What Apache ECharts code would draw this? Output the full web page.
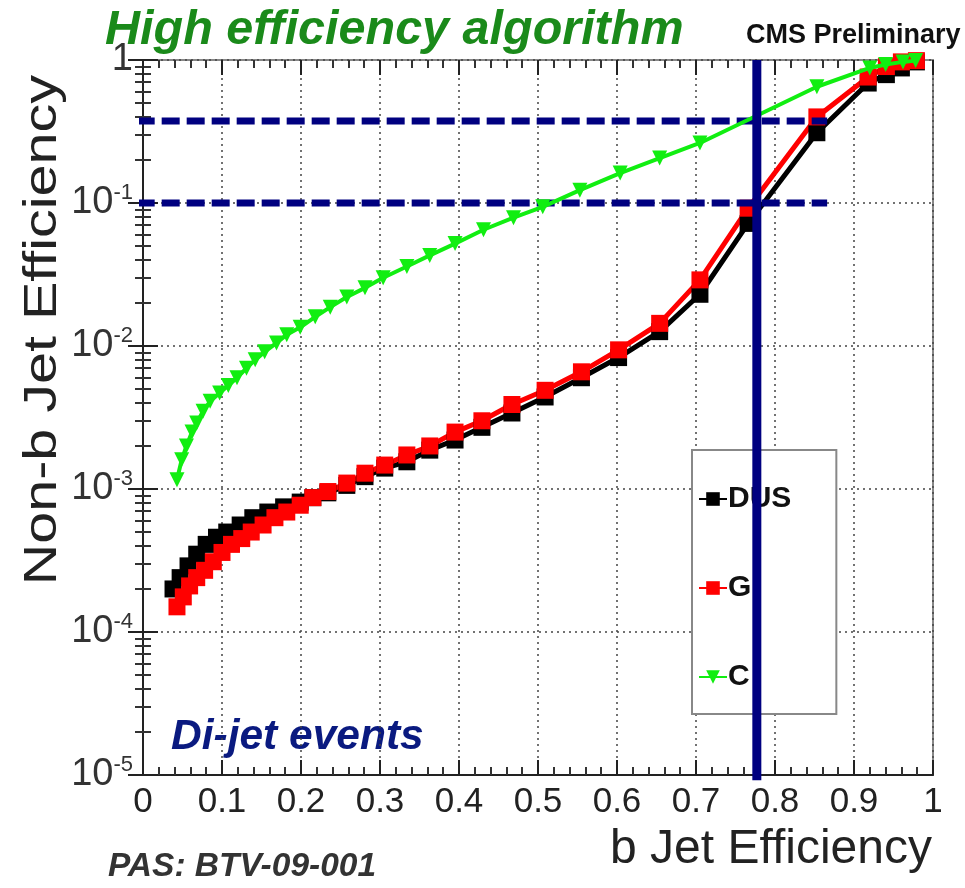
<!DOCTYPE html>
<html>
<head>
<meta charset="utf-8">
<script src="https://cdn.jsdelivr.net/npm/echarts@6/dist/echarts.min.js"></script>
<style>
html,body{margin:0;padding:0;background:#fff;}
#chart{width:965px;height:888px;}
</style>
</head>
<body>
<div id="chart"></div>
<script>
// ---- data ----
const seriesNames = ['DUS', 'G', 'C'];

const xDUS = [0.038,0.047,0.057,0.068,0.080,0.093,0.106,0.123,0.139,0.158,0.178,0.199,0.215,0.234,0.258,0.281,0.306,0.334,0.363,0.395,0.429,0.467,0.509,0.555,0.602,0.654,0.705,0.766,0.853,0.918,0.941,0.960,0.979];
const yDUS = [2.0e-4,2.4e-4,2.9e-4,3.5e-4,4.1e-4,4.6e-4,5.0e-4,5.6e-4,6.3e-4,6.9e-4,7.5e-4,8.1e-4,8.7e-4,9.4e-4,1.06e-3,1.22e-3,1.4e-3,1.55e-3,1.87e-3,2.2e-3,2.7e-3,3.4e-3,4.4e-3,6.0e-3,8.3e-3,1.26e-2,2.3e-2,7.2e-2,0.31,0.69,0.79,0.88,0.97];

const xG = [0.043,0.051,0.059,0.068,0.078,0.089,0.100,0.112,0.125,0.137,0.152,0.167,0.182,0.199,0.215,0.234,0.258,0.281,0.306,0.334,0.363,0.395,0.429,0.467,0.509,0.555,0.602,0.654,0.705,0.766,0.853,0.918,0.941,0.960,0.979];
const yG = [1.5e-4,1.76e-4,2.1e-4,2.4e-4,2.7e-4,3.1e-4,3.6e-4,4.1e-4,4.5e-4,5.0e-4,5.6e-4,6.3e-4,6.9e-4,7.7e-4,8.7e-4,9.6e-4,1.1e-3,1.29e-3,1.47e-3,1.73e-3,2.0e-3,2.5e-3,3.0e-3,3.9e-3,4.9e-3,6.6e-3,9.4e-3,1.44e-2,2.9e-2,0.092,0.40,0.76,0.90,0.97,0.99];

const xC = [0.043,0.049,0.055,0.062,0.068,0.076,0.085,0.097,0.108,0.119,0.131,0.142,0.154,0.169,0.182,0.199,0.218,0.237,0.258,0.281,0.304,0.334,0.363,0.395,0.431,0.469,0.506,0.553,0.604,0.654,0.705,0.853,0.920,0.940,0.962,0.978];
const yC = [1.16e-3,1.6e-3,2.0e-3,2.5e-3,2.9e-3,3.5e-3,4.1e-3,4.7e-3,5.3e-3,6.0e-3,7.0e-3,8.0e-3,9.1e-3,1.05e-2,1.2e-2,1.35e-2,1.6e-2,1.87e-2,2.2e-2,2.55e-2,3.0e-2,3.6e-2,4.3e-2,5.2e-2,6.5e-2,7.9e-2,9.4e-2,0.123,0.162,0.206,0.263,0.65,0.88,0.93,0.97,0.99];

// reference lines (working points)
const hLineLevels = [0.375, 0.1];
const hLineX = [-0.008, 0.866];
const vLineX = 0.777;
const vLineY = [0.92e-5, 1];

// tick labels
const xTickLabels = ['0','0.1','0.2','0.3','0.4','0.5','0.6','0.7','0.8','0.9','1'];
const yTickExponents = [-5,-4,-3,-2,-1,0];

// ---- chart ----
const pairs = (xs, ys) => xs.map((x, i) => [x, ys[i]]);
const FONT = 'Liberation Sans, Arial, sans-serif';

const chart = echarts.init(document.getElementById('chart'));

const hSeries = hLineLevels.map((lv, i) => ({
  name: 'wp' + i,
  type: 'line',
  data: [[hLineX[0], lv], [hLineX[1], lv]],
  symbol: 'none',
  clip: false,
  lineStyle: { color: '#000080', width: 7, type: [18, 7] },
  z: 4,
  silent: true
}));

const option = {
  backgroundColor: '#ffffff',
  animation: false,
  textStyle: { fontFamily: FONT },
  grid: { left: 143, right: 32, top: 60, bottom: 113, show: true, borderColor: '#888', borderWidth: 2, backgroundColor: 'transparent' },
  title: [
    { text: 'High efficiency algorithm', left: 100, top: 2,
      textStyle: { color: '#1a8a1a', fontSize: 48.5, fontWeight: 'bold', fontStyle: 'italic', fontFamily: FONT } },
    { text: 'CMS Preliminary', left: 741, top: 17,
      textStyle: { color: '#111', fontSize: 27, fontWeight: 'bold', fontFamily: FONT } }
  ],
  legend: {
    data: seriesNames,
    orient: 'vertical',
    left: 692, top: 450,
    padding: [34, 45, 22, 6],
    itemGap: 59,
    itemWidth: 28, itemHeight: 17,
    backgroundColor: '#fff',
    borderColor: '#888', borderWidth: 2,
    textStyle: { fontSize: 30, fontWeight: 'bold', color: '#111', fontFamily: FONT, padding: [0, 0, 0, -4] },
    z: 5
  },
  xAxis: [{
    type: 'value', min: 0, max: 1, interval: 0.1,
    axisLine: { show: true, onZero: false, lineStyle: { color: '#222', width: 2 } },
    axisTick: { show: true, inside: true, length: 15, lineStyle: { color: '#222', width: 2 } },
    minorTick: { show: true, splitNumber: 5, length: 8, lineStyle: { color: '#333', width: 2 } },
    axisLabel: { margin: 10, fontSize: 35, color: '#222', fontFamily: FONT,
      formatter: v => xTickLabels[Math.round(v * 10)] },
    splitLine: { show: true, lineStyle: { color: '#444', width: 1.5, type: [2, 4] } }
  }, {
    type: 'value', min: 0, max: 1, interval: 0.1, position: 'top',
    axisLine: { show: false },
    axisTick: { show: true, inside: true, length: 15, lineStyle: { color: '#222', width: 2 } },
    minorTick: { show: true, splitNumber: 5, length: 8, lineStyle: { color: '#333', width: 2 } },
    axisLabel: { show: false }, splitLine: { show: false }
  }],
  yAxis: [{
    type: 'log', logBase: 10, min: 1e-5, max: 1,
    axisLine: { show: true, lineStyle: { color: '#222', width: 2 } },
    axisTick: { show: true, inside: true, length: 15, lineStyle: { color: '#222', width: 2 } },
    minorTick: { show: true, splitNumber: 9, length: 8, lineStyle: { color: '#333', width: 2 } },
    axisLabel: {
      margin: 10, color: '#333', fontFamily: FONT,
      formatter: v => {
        const e = Math.round(Math.log10(v));
        if (!yTickExponents.includes(e)) return '';
        return e === 0 ? '{b|1}' : '{b|10}{s|' + e + '}';
      },
      rich: {
        b: { fontSize: 38, color: '#333', fontFamily: FONT },
        s: { fontSize: 22, color: '#333', fontFamily: FONT, padding: [0, 0, 20, 0] }
      }
    },
    splitLine: { show: true, lineStyle: { color: '#444', width: 1.5, type: [2, 4] } }
  }, {
    type: 'log', logBase: 10, min: 1e-5, max: 1, position: 'right',
    axisLine: { show: false },
    axisTick: { show: true, inside: true, length: 15, lineStyle: { color: '#222', width: 2 } },
    minorTick: { show: true, splitNumber: 9, length: 8, lineStyle: { color: '#333', width: 2 } },
    axisLabel: { show: false }, splitLine: { show: false }
  }],
  graphic: [
    { type: 'text', left: 20, top: 75, rotation: Math.PI / 2, scaleX: 1.25, scaleY: 1,
      style: { text: 'Non-b Jet Efficiency', fontSize: 46, fill: '#222', fontFamily: FONT } },
    { type: 'text', right: 33, top: 826,
      style: { text: 'b Jet Efficiency', fontSize: 48, fill: '#222', fontFamily: FONT } },
    { type: 'text', left: 171, top: 716,
      style: { text: 'Di-jet events', fontSize: 42.5, fontWeight: 'bold', fontStyle: 'italic', fill: '#0a1a80', fontFamily: FONT } },
    { type: 'text', left: 108, top: 850,
      style: { text: 'PAS: BTV-09-001', fontSize: 33.5, fontWeight: 'bold', fontStyle: 'italic', fill: '#333', fontFamily: FONT } }
  ],
  series: [
    {
      name: 'DUS', type: 'line', data: pairs(xDUS, yDUS),
      symbol: 'rect', symbolSize: 17,
      itemStyle: { color: '#000' }, lineStyle: { color: '#000', width: 5 }, z: 3
    },
    {
      name: 'G', type: 'line', data: pairs(xG, yG),
      symbol: 'rect', symbolSize: 17,
      itemStyle: { color: '#ff0000' }, lineStyle: { color: '#ff0000', width: 5 }, z: 3
    },
    {
      name: 'C', type: 'line', data: pairs(xC, yC),
      symbol: 'triangle', symbolRotate: 180, symbolSize: 15,
      itemStyle: { color: '#11ee11' }, lineStyle: { color: '#11ee11', width: 4 }, z: 5
    },
    ...hSeries,
    {
      name: 'wpv', type: 'line',
      data: [[vLineX, vLineY[0]], [vLineX, vLineY[1]]],
      symbol: 'none', clip: false,
      lineStyle: { color: '#000080', width: 9 },
      z: 10, silent: true
    }
  ]
};
chart.setOption(option);
</script>
</body>
</html>
